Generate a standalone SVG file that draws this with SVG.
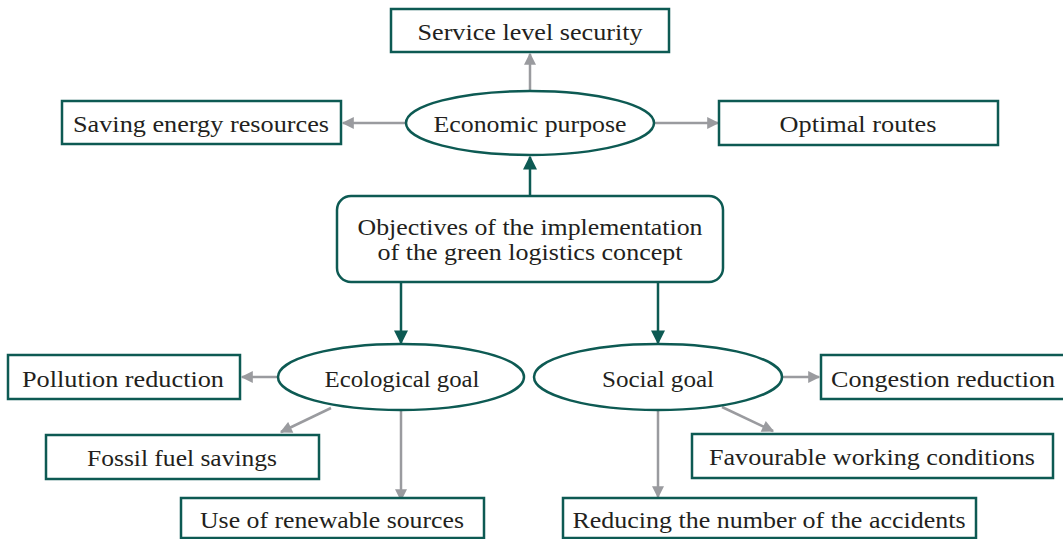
<svg xmlns="http://www.w3.org/2000/svg" width="1063" height="539" viewBox="0 0 1063 539">
  <defs>
    <marker id="arrowGray" viewBox="0 0 10 10" refX="9" refY="5" markerWidth="13" markerHeight="12" markerUnits="userSpaceOnUse" orient="auto">
      <path d="M0,0 L10,5 L0,10 z" fill="#9a9b9f"/>
    </marker>
    <marker id="arrowDark" viewBox="0 0 10 10" refX="9" refY="5" markerWidth="15" markerHeight="14" markerUnits="userSpaceOnUse" orient="auto">
      <path d="M0,0 L10,5 L0,10 z" fill="#0d5a53"/>
    </marker>
  </defs>
  <style>
    .box { fill: #ffffff; stroke: #0d5a53; stroke-width: 2.5; }
    .oval { fill: #ffffff; stroke: #0d5a53; stroke-width: 2.5; }
    .label { font-family: "Liberation Serif", "DejaVu Serif", serif; font-size: 24px; fill: #231f20; text-anchor: middle; }
    .gray { stroke: #9a9b9f; stroke-width: 2.5; fill: none; marker-end: url(#arrowGray); }
    .dark { stroke: #0d5a53; stroke-width: 2.5; fill: none; marker-end: url(#arrowDark); }
  </style>
  <rect width="1063" height="539" fill="#ffffff"/>

  <g id="connectors">
    <line class="gray" x1="530" y1="91" x2="530" y2="54"/>
    <line class="gray" x1="406" y1="123" x2="343" y2="123"/>
    <line class="gray" x1="654" y1="123" x2="718" y2="123"/>
    <line class="dark" x1="530" y1="196" x2="530" y2="157"/>
    <line class="dark" x1="401" y1="282" x2="401" y2="343"/>
    <line class="dark" x1="658" y1="282" x2="658" y2="343"/>
    <line class="gray" x1="278" y1="377" x2="242" y2="377"/>
    <line class="gray" x1="331" y1="408" x2="281" y2="432"/>
    <line class="gray" x1="401" y1="410" x2="401" y2="500"/>
    <line class="gray" x1="782" y1="377" x2="819" y2="377"/>
    <line class="gray" x1="722" y1="407" x2="773" y2="431"/>
    <line class="gray" x1="658" y1="410" x2="658" y2="497"/>
  </g>

  <g id="service-level-security">
    <rect class="box" x="391" y="9" width="278" height="43"/>
    <text class="label" x="530" y="40" textLength="225" lengthAdjust="spacingAndGlyphs">Service level security</text>
  </g>
  <g id="saving-energy-resources">
    <rect class="box" x="62" y="101" width="279" height="43"/>
    <text class="label" x="201" y="132" textLength="256" lengthAdjust="spacingAndGlyphs">Saving energy resources</text>
  </g>
  <g id="economic-purpose">
    <ellipse class="oval" cx="530" cy="123" rx="124" ry="32"/>
    <text class="label" x="530" y="132" textLength="193" lengthAdjust="spacingAndGlyphs">Economic purpose</text>
  </g>
  <g id="optimal-routes">
    <rect class="box" x="719" y="101" width="279" height="44"/>
    <text class="label" x="858" y="132" textLength="157" lengthAdjust="spacingAndGlyphs">Optimal routes</text>
  </g>
  <g id="objectives">
    <rect class="box" x="337" y="196" width="386" height="86" rx="14" ry="14"/>
    <text class="label" x="530" y="235" textLength="345" lengthAdjust="spacingAndGlyphs">Objectives of the implementation</text>
    <text class="label" x="530" y="260" textLength="305" lengthAdjust="spacingAndGlyphs">of the green logistics concept</text>
  </g>
  <g id="ecological-goal">
    <ellipse class="oval" cx="401" cy="377" rx="123" ry="33"/>
    <text class="label" x="402" y="387" textLength="155" lengthAdjust="spacingAndGlyphs">Ecological goal</text>
  </g>
  <g id="social-goal">
    <ellipse class="oval" cx="658" cy="377" rx="124" ry="33"/>
    <text class="label" x="658" y="387" textLength="112" lengthAdjust="spacingAndGlyphs">Social goal</text>
  </g>
  <g id="pollution-reduction">
    <rect class="box" x="8" y="355" width="232" height="44"/>
    <text class="label" x="123" y="387" textLength="202" lengthAdjust="spacingAndGlyphs">Pollution reduction</text>
  </g>
  <g id="fossil-fuel-savings">
    <rect class="box" x="46" y="435" width="273" height="44"/>
    <text class="label" x="182" y="466" textLength="190" lengthAdjust="spacingAndGlyphs">Fossil fuel savings</text>
  </g>
  <g id="renewable-sources">
    <rect class="box" x="181" y="498" width="303" height="40"/>
    <text class="label" x="332" y="528" textLength="264" lengthAdjust="spacingAndGlyphs">Use of renewable sources</text>
  </g>
  <g id="congestion-reduction">
    <rect class="box" x="821" y="355" width="250" height="44"/>
    <text class="label" x="943" y="387" textLength="224" lengthAdjust="spacingAndGlyphs">Congestion reduction</text>
  </g>
  <g id="favourable-working-conditions">
    <rect class="box" x="692" y="434" width="361" height="44"/>
    <text class="label" x="872" y="465" textLength="326" lengthAdjust="spacingAndGlyphs">Favourable working conditions</text>
  </g>
  <g id="reducing-accidents">
    <rect class="box" x="563" y="498" width="413" height="40"/>
    <text class="label" x="769" y="528" textLength="393" lengthAdjust="spacingAndGlyphs">Reducing the number of the accidents</text>
  </g>
</svg>
